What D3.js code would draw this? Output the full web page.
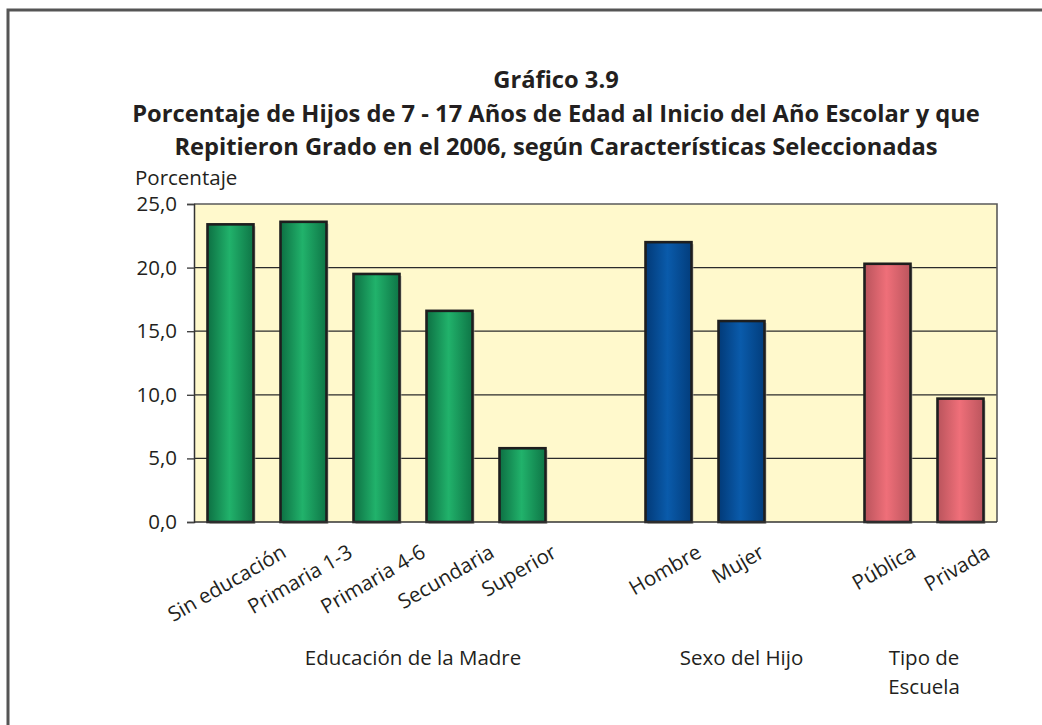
<!DOCTYPE html>
<html>
<head>
<meta charset="utf-8">
<script src="https://cdn.jsdelivr.net/npm/d3@7"></script>
<style>
  body { margin: 0; background: #fff; }
  svg { display: block; }
  text { font-family: "Open Sans", Lato, sans-serif; fill: #231f20; }
</style>
</head>
<body>
<svg id="chart"></svg>
<script>
// chart data
var categories = ["Sin educación", "Primaria 1-3", "Primaria 4-6", "Secundaria", "Superior",
                  "Hombre", "Mujer", "Pública", "Privada"];
var values = [23.4, 23.6, 19.5, 16.6, 5.8, 22.0, 15.8, 20.3, 9.7];
var groups = ["madre", "madre", "madre", "madre", "madre", "sexo", "sexo", "escuela", "escuela"];
var groupNames = ["Educación de la Madre", "Sexo del Hijo", "Tipo de|Escuela"];
var groupAnchors = [["Primaria 4-6", "Secundaria"], ["Mujer", "Mujer"], ["Pública", "Privada"]];
var yTicks = [0, 5, 10, 15, 20, 25];
var titleLines = ["Gráfico 3.9",
  "Porcentaje de Hijos de 7 - 17 Años de Edad al Inicio del Año Escolar  y que",
  "Repitieron Grado en el 2006, según Características Seleccionadas"];
var yTitle = "Porcentaje";

var config = {
  w: 1042,
  h: 725,
  left: 194,
  right: 997,
  top: 204,
  bottom: 522,
  fs: 20.5
};

// slots: a blank slot between each group of bars
var slots = [];
categories.forEach(function(c, i) {
  if (i > 0 && groups[i] != groups[i - 1]) slots.push("gap" + i);
  slots.push(c);
});

var data = categories.map(function(c, i) {
  return { name: c, value: values[i], group: groups[i] };
});

var svg = d3.select("#chart")
  .attr("width", config.w)
  .attr("height", config.h);

var defs = svg.append("defs");
var palette = {
  madre: ["#0d7043", "#21b26b", "#0e7546"],
  sexo: ["#023a78", "#0a5bab", "#023d7c"],
  escuela: ["#b9545c", "#ef6f79", "#bb555d"]
};
Object.keys(palette).forEach(function(k) {
  var g = defs.append("linearGradient")
    .attr("id", "grad-" + k)
    .attr("x1", 0).attr("x2", 1).attr("y1", 0).attr("y2", 0);
  g.append("stop").attr("offset", "0%").attr("stop-color", palette[k][0]);
  g.append("stop").attr("offset", "48%").attr("stop-color", palette[k][1]);
  g.append("stop").attr("offset", "100%").attr("stop-color", palette[k][2]);
});

// outer frame (only left and top visible)
svg.append("path")
  .attr("d", "M8," + config.h + "V10H" + config.w)
  .attr("fill", "none")
  .attr("stroke", "#555")
  .attr("stroke-width", 3);

var x = d3.scaleBand()
  .domain(slots)
  .range([config.left, config.right])
  .paddingInner(0.37)
  .paddingOuter(0.185);

var y = d3.scaleLinear()
  .domain([0, 25])
  .range([config.bottom, config.top]);

// plot background
svg.append("rect")
  .attr("x", config.left)
  .attr("y", config.top)
  .attr("width", config.right - config.left)
  .attr("height", config.bottom - config.top)
  .attr("fill", "#fff9cc");

// gridlines
svg.append("g")
  .selectAll("line")
  .data(yTicks.filter(function(d) { return d > 0 && d < 25; }))
  .enter().append("line")
    .attr("x1", config.left)
    .attr("x2", config.right)
    .attr("y1", function(d) { return y(d); })
    .attr("y2", function(d) { return y(d); })
    .attr("stroke", "#2b2b2b")
    .attr("stroke-width", 1.2);

// plot frame: top and right grey
svg.append("path")
  .attr("d", "M" + config.left + "," + y(25) + "H" + config.right + "V" + config.bottom)
  .attr("fill", "none")
  .attr("stroke", "#5a5a5a")
  .attr("stroke-width", 1.6);

// bars
var bars = svg.append("g");
bars.selectAll("rect.shadow")
  .data(data)
  .enter().append("rect")
    .attr("class", "shadow")
    .attr("x", function(d) { return x(d.name) + 2; })
    .attr("y", function(d) { return y(d.value) + 2; })
    .attr("width", x.bandwidth())
    .attr("height", function(d) { return y(0) - y(d.value); })
    .attr("fill", "#a8a8a0")
    .attr("opacity", 0.7);

bars.selectAll("rect.bar")
  .data(data)
  .enter().append("rect")
    .attr("class", "bar")
    .attr("x", function(d) { return x(d.name); })
    .attr("y", function(d) { return y(d.value); })
    .attr("width", x.bandwidth())
    .attr("height", function(d) { return y(0) - y(d.value); })
    .attr("fill", function(d) { return "url(#grad-" + d.group + ")"; })
    .attr("stroke", "#1e1e1e")
    .attr("stroke-width", 2.6);

// y axis
var yAxis = d3.axisLeft(y)
  .tickValues(yTicks)
  .tickSize(7)
  .tickPadding(10)
  .tickFormat(function(d) { return d3.format(".1f")(d).replace(".", ","); });

var ga = svg.append("g")
  .attr("transform", "translate(" + config.left + ",0)")
  .call(yAxis);
ga.select(".domain").attr("stroke", "#333").attr("stroke-width", 1.5);
ga.selectAll(".tick line").attr("stroke", "#444").attr("stroke-width", 1.4);
ga.selectAll(".tick text")
  .attr("font-size", config.fs)
  .attr("font-family", "'Open Sans', sans-serif")
  .attr("fill", "#231f20");

// x baseline
svg.append("line")
  .attr("x1", config.left)
  .attr("x2", config.right)
  .attr("y1", config.bottom)
  .attr("y2", config.bottom)
  .attr("stroke", "#333")
  .attr("stroke-width", 1.5);

// category labels, rotated -30 deg, top of the rotated box under the axis
var ang = 30 * Math.PI / 180;
var labTop = 547;
svg.append("g")
  .selectAll("text")
  .data(data)
  .enter().append("text")
    .attr("font-size", config.fs)
    .attr("text-anchor", "middle")
    .text(function(d) { return d.name; })
    .each(function(d) {
      var L = this.getComputedTextLength();
      var cx = x(d.name) + x.bandwidth() / 2;
      var cy = labTop + L / 2 * Math.sin(ang) + 0.52 * config.fs * Math.cos(ang);
      d3.select(this).attr("transform", "translate(" + cx + "," + cy + ") rotate(-30)");
    });

// group labels
groupNames.forEach(function(name, i) {
  var a = groupAnchors[i];
  var cx = (x(a[0]) + x(a[1])) / 2 + x.bandwidth() / 2;
  var t = svg.append("text")
    .attr("x", cx)
    .attr("y", 665)
    .attr("font-size", config.fs)
    .attr("text-anchor", "middle");
  name.split("|").forEach(function(part, j) {
    t.append("tspan").attr("x", cx).attr("dy", j == 0 ? 0 : 29).text(part);
  });
});

// y axis title
svg.append("text")
  .attr("x", 135)
  .attr("y", 185)
  .attr("font-size", config.fs)
  .text(yTitle);

// title
svg.append("g")
  .selectAll("text")
  .data(titleLines)
  .enter().append("text")
    .attr("x", 556)
    .attr("y", function(d, i) { return 88 + i * 33.5; })
    .attr("text-anchor", "middle")
    .attr("font-size", 23.7)
    .attr("font-weight", "bold")
    .text(function(d) { return d; });
</script>
</body>
</html>
